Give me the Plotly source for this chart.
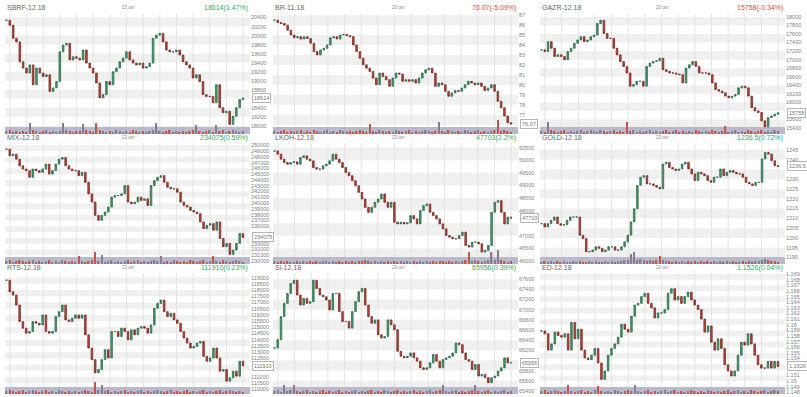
import math
import plotly.graph_objects as go

# ---------------- data ----------------
names = ["SBRF-12.18", "BR-11.18", "GAZR-12.18",
         "MIX-12.18", "LKOH-12.18", "GOLD-12.18",
         "RTS-12.18", "Si-12.18", "ED-12.18"]
date_label = "23 окт"
last_text = ["18614", "76.07", "15758", "234075", "47703", "1236.5", "111910", "65956", "1.1526"]
pct_text = ["1.47%", "-5.09%", "-0.34%", "0.59%", "2.2%", "0.72%", "0.23%", "0.39%", "0.04%"]

SBRF_close = [20340, 20230, 19940, 19860, 19420, 19280, 19170, 19350, 18910, 19280,
              19170, 19090, 19130, 18760, 18840, 18980, 19640, 19790, 19830, 19460,
              19530, 19500, 19460, 19680, 19390, 19280, 19170, 18950, 18620, 18690,
              18980, 18910, 19200, 19280, 19420, 19500, 19640, 19460, 19390, 19350,
              19390, 19280, 19310, 19390, 19940, 20010, 20050, 19860, 19680, 19640,
              19640, 19680, 19570, 19420, 19350, 19280, 19060, 19130, 18980, 18690,
              18650, 18650, 18510, 18910, 18400, 18290, 18320, 18030, 18210, 18400,
              18580, 18614]
SBRF_vol = [3, 4, 2, 3, 2, 3, 2, 11, 4, 3, 2, 3, 4, 2, 3, 2, 3, 11, 4, 3,
            2, 3, 3, 10, 4, 3, 2, 11, 4, 3, 2, 3, 2, 4, 3, 2, 3, 2, 4, 3,
            2, 3, 2, 3, 4, 11, 3, 2, 3, 4, 2, 3, 2, 3, 2, 3, 4, 9, 3, 2,
            3, 4, 2, 9, 3, 4, 2, 3, 4, 3, 2, 3]

BR_close = [86.50, 86.27, 86.17, 86.00, 85.50, 85.01, 84.74, 84.84, 84.61, 84.84,
            84.67, 84.18, 83.35, 83.01, 83.51, 83.68, 84.01, 84.74, 84.84, 84.61,
            85.01, 85.07, 84.94, 84.84, 84.01, 83.35, 82.68, 82.02, 81.68, 81.35,
            80.69, 80.02, 81.19, 80.85, 80.52, 79.86, 80.69, 81.19, 81.09, 80.36,
            80.52, 80.36, 80.52, 80.19, 80.69, 81.19, 81.52, 81.68, 81.19, 79.86,
            80.19, 80.02, 79.36, 78.86, 79.19, 79.43, 79.36, 79.69, 80.02, 80.36,
            80.19, 80.02, 80.19, 79.86, 79.43, 79.69, 80.02, 79.36, 78.36, 77.70,
            76.87, 76.20, 76.07]
BR_vol = [3, 2, 3, 4, 2, 3, 2, 3, 4, 2, 3, 2, 4, 3, 2, 3, 4, 2, 3, 2,
          4, 3, 2, 3, 2, 3, 4, 3, 2, 10, 3, 2, 4, 3, 2, 3, 2, 4, 3, 2,
          3, 4, 2, 3, 2, 3, 4, 3, 2, 3, 12, 3, 2, 4, 3, 2, 3, 2, 4, 3,
          2, 3, 4, 2, 3, 2, 3, 4, 14, 3, 4, 3, 2]

GAZR_close = [17228, 17189, 17421, 17267, 17074, 17112, 17074, 16996, 17189, 17267,
              17382, 17460, 17537, 17421, 17460, 17537, 17575, 17846, 17923, 17614,
              17498, 17498, 17267, 17112, 16958, 16842, 16688, 16379, 16417, 16495,
              16495, 16379, 16842, 16919, 16958, 16973, 17035, 16765, 16726, 16688,
              16688, 16664, 16649, 16456, 16803, 16881, 16958, 16842, 16688, 16688,
              16688, 16649, 16456, 16302, 16263, 16224, 16147, 16108, 16147, 16186,
              16340, 16379, 16340, 16147, 15877, 15800, 15761, 15568, 15429, 15645,
              15684, 15723, 15758]
GAZR_vol = [3, 2, 12, 4, 3, 2, 3, 4, 2, 3, 2, 3, 4, 2, 3, 4, 3, 2, 4, 3,
            2, 3, 4, 2, 3, 2, 12, 3, 4, 2, 3, 2, 3, 4, 2, 3, 2, 3, 4, 2,
            3, 4, 2, 3, 2, 3, 2, 4, 3, 2, 3, 2, 4, 3, 2, 3, 8, 2, 3, 4,
            2, 3, 2, 4, 3, 2, 3, 4, 2, 3, 2, 4, 3]

MIX_close = [249315, 248175, 248460, 247600, 246460, 245890, 245605, 244460, 245890, 245605,
             245320, 245890, 246745, 245030, 245605, 246745, 247600, 247885, 246460, 245890,
             245605, 245605, 244745, 245320, 243605, 241605, 240180, 237895, 237040, 237895,
             238465, 239325, 241035, 241320, 241320, 241605, 243035, 240180, 239895, 240180,
             241035, 240465, 240750, 239610, 243035, 243890, 244460, 244745, 243605, 242750,
             242465, 242465, 241890, 240180, 239610, 239325, 238750, 238465, 238180, 236755,
             235610, 236180, 236465, 235325, 236755, 233900, 232470, 233040, 231155, 231900,
             233040, 234755, 234075]
MIX_vol = [3, 4, 2, 3, 4, 3, 2, 3, 4, 2, 3, 2, 3, 4, 2, 3, 2, 4, 3, 2,
           3, 2, 8, 3, 2, 3, 4, 12, 3, 9, 2, 3, 4, 2, 3, 2, 3, 4, 2, 3,
           4, 2, 3, 2, 3, 4, 3, 8, 2, 3, 2, 4, 3, 2, 3, 2, 4, 3, 2, 3,
           4, 2, 3, 8, 3, 2, 4, 3, 2, 3, 4, 3, 2]

LKOH_close = [50368, 50237, 50039, 49908, 49842, 49908, 49934, 49842, 50105, 50171,
              50039, 49974, 49710, 49645, 49645, 49776, 49842, 49974, 50237, 50039,
              49908, 49710, 49513, 49381, 49184, 48987, 48723, 48460, 48131, 47934,
              48131, 48329, 48460, 48658, 48329, 48131, 48329, 47539, 47473, 47539,
              47473, 47513, 47802, 47671, 47473, 48000, 48197, 48263, 47934, 47802,
              47671, 47473, 47276, 47013, 46947, 46881, 46881, 47013, 47144, 46618,
              46552, 46750, 46750, 46684, 46355, 46420, 46618, 47934, 48329, 48395,
              47934, 47473, 47737, 47703]
LKOH_vol = [3, 2, 3, 2, 3, 2, 2, 3, 2, 3, 2, 3, 2, 3, 2, 3, 3, 2, 3, 2,
            3, 2, 3, 2, 3, 2, 3, 3, 4, 3, 2, 3, 2, 3, 2, 3, 2, 3, 2, 3,
            2, 3, 2, 3, 2, 3, 2, 3, 2, 3, 2, 3, 3, 2, 3, 2, 3, 2, 3, 4,
            12, 3, 4, 3, 2, 3, 4, 12, 4, 14, 4, 3, 2, 3]

GOLD_close = [1207.3, 1205.6, 1207.3, 1209.0, 1210.7, 1207.3, 1206.5, 1206.8, 1209.0, 1210.7,
              1210.7, 1210.7, 1201.4, 1199.7, 1193.0, 1193.0, 1193.8, 1195.5, 1194.7, 1193.0,
              1193.8, 1195.5, 1195.5, 1193.8, 1193.8, 1195.5, 1198.0, 1201.4, 1208.2, 1214.9,
              1226.8, 1231.0, 1231.8, 1227.6, 1227.6, 1226.8, 1225.9, 1225.1, 1237.7, 1238.6,
              1236.0, 1235.2, 1234.4, 1235.2, 1237.7, 1238.6, 1235.2, 1232.7, 1229.3, 1233.5,
              1232.7, 1231.8, 1229.3, 1228.4, 1231.0, 1231.0, 1235.2, 1231.8, 1233.5, 1234.4,
              1233.5, 1232.7, 1232.7, 1231.0, 1228.4, 1227.6, 1226.8, 1228.4, 1228.4, 1240.3,
              1243.6, 1242.8, 1239.4, 1236.9, 1236.5]
GOLD_vol = [2, 3, 2, 3, 2, 3, 2, 3, 2, 2, 3, 2, 3, 2, 2, 3, 2, 3, 2, 2,
            3, 2, 3, 2, 3, 3, 4, 4, 10, 12, 4, 5, 4, 3, 4, 3, 4, 8, 4, 3,
            3, 2, 3, 2, 3, 2, 3, 2, 3, 2, 3, 2, 3, 2, 3, 2, 3, 2, 3, 2,
            3, 2, 2, 3, 2, 3, 2, 3, 3, 4, 5, 4, 3, 3, 2]

RTS_close = [118787, 117856, 117590, 116792, 115462, 114930, 114531, 114664, 115462, 115329,
             115196, 115994, 114664, 114531, 114664, 115861, 116260, 116792, 115595, 115462,
             115728, 115994, 115728, 115994, 114398, 113334, 112403, 111339, 111605, 112403,
             113201, 112537, 114664, 114664, 114265, 114930, 114664, 113999, 114797, 114398,
             114930, 115063, 114930, 114531, 115196, 116526, 116925, 117191, 116260, 115861,
             116127, 115595, 115329, 114664, 114132, 113733, 113334, 113467, 113733, 113866,
             112669, 112270, 112537, 113334, 112537, 111472, 111605, 110674, 110940, 111472,
             111073, 112270, 111910]
RTS_vol = [3, 4, 3, 2, 3, 4, 2, 3, 4, 3, 2, 3, 4, 2, 3, 2, 4, 3, 2, 3,
           2, 3, 2, 3, 4, 3, 2, 12, 4, 9, 3, 4, 2, 3, 2, 3, 4, 2, 3, 2,
           3, 4, 2, 3, 2, 3, 4, 3, 2, 3, 4, 2, 3, 2, 3, 4, 2, 3, 2, 3,
           4, 2, 3, 2, 3, 4, 2, 3, 4, 3, 2, 3, 2]

Si_close = [66246, 66409, 66864, 67125, 67320, 67515, 67580, 67288, 67092, 67222,
            67125, 67157, 67580, 67418, 67288, 67255, 67190, 66995, 67320, 67320,
            66962, 66767, 66767, 66637, 66962, 67157, 67353, 67418, 67092, 66864,
            66734, 66799, 66506, 66441, 66474, 66799, 66702, 66604, 66181, 66083,
            66051, 66083, 66148, 66051, 65986, 65855, 65823, 65855, 65953, 66116,
            65986, 65855, 66018, 66051, 66083, 66148, 66344, 66311, 66148, 66018,
            65986, 65823, 65920, 65693, 65725, 65660, 65562, 65660, 65693, 65790,
            65855, 66051, 65953, 65956]
Si_vol = [3, 4, 2, 9, 3, 4, 9, 3, 2, 3, 4, 2, 3, 2, 3, 4, 2, 3, 2, 3,
          4, 2, 3, 2, 3, 4, 2, 3, 2, 3, 4, 2, 3, 2, 4, 3, 2, 3, 4, 2,
          3, 2, 3, 4, 2, 3, 2, 3, 4, 2, 3, 4, 9, 3, 2, 3, 4, 2, 3, 2,
          3, 4, 9, 3, 2, 3, 4, 2, 3, 2, 3, 4, 2, 3]

ED_close = [1.1589, 1.1584, 1.1555, 1.1566, 1.1587, 1.1581, 1.1578, 1.1584, 1.1555, 1.1604,
            1.1575, 1.1592, 1.1555, 1.1541, 1.1538, 1.1546, 1.1558, 1.1532, 1.1503, 1.1518,
            1.1546, 1.1558, 1.1566, 1.1578, 1.1601, 1.1592, 1.1587, 1.1615, 1.1635, 1.1638,
            1.1650, 1.1656, 1.1638, 1.1630, 1.1612, 1.1621, 1.1621, 1.1627, 1.1656, 1.1664,
            1.1644, 1.1650, 1.1638, 1.1650, 1.1658, 1.1644, 1.1635, 1.1627, 1.1610, 1.1587,
            1.1598, 1.1569, 1.1555, 1.1575, 1.1558, 1.1529, 1.1518, 1.1509, 1.1518, 1.1546,
            1.1569, 1.1564, 1.1584, 1.1566, 1.1546, 1.1529, 1.1523, 1.1523, 1.1535, 1.1523,
            1.1535, 1.1526]
ED_vol = [3, 4, 2, 3, 4, 3, 2, 3, 9, 3, 2, 3, 4, 2, 3, 2, 4, 8, 3, 2,
          3, 2, 4, 3, 2, 3, 4, 3, 9, 3, 2, 3, 4, 2, 3, 2, 3, 4, 2, 3,
          4, 2, 3, 2, 3, 4, 3, 2, 3, 2, 4, 3, 2, 3, 2, 3, 4, 2, 3, 4,
          2, 3, 2, 4, 3, 2, 3, 4, 2, 3, 4, 3]

closes = [SBRF_close, BR_close, GAZR_close, MIX_close, LKOH_close, GOLD_close,
          RTS_close, Si_close, ED_close]
vols = [SBRF_vol, BR_vol, GAZR_vol, MIX_vol, LKOH_vol, GOLD_vol, RTS_vol, Si_vol, ED_vol]

# ---------------- layout / style ----------------
W, H = 807, 397
COL_L = [5, 273, 540]
PW = 245
ROW_T = [12, 142, 273]
ROW_B = [133, 264, 395]
TITLE_Y = [6, 137, 268]
DATE_X = [128, 398, 662]
Y_RANGES = [[17817, 20481], [75.07, 87.13], [15261, 18070],
            [229486, 250400], [45882, 50684], [1186.7, 1248.5],
            [109638, 119373], [65339, 67724], [1.1477, 1.1692]]
DTICKS = [200, 1, 200, 1000, 500, 5, 500, 200, 0.001]
FMTS = ["d", "d", "d", "d", "d", "d", "d", "d", ".3~f"]

FONT = "Liberation Sans, Arial, sans-serif"
UP_LINE, UP_FILL = "#2f6e4e", "#4a9a6c"
DN_LINE, DN_FILL = "#7c2f27", "#b4493c"
GREEN, RED = "#2fa865", "#e2483f"
STRIPE = "#f0f0f0"
VGRID = "#e3e3e3"
BAND = "#b9b9cc"
BAND_PX = 7
VOL_PX = 16

fig = go.Figure()
layout = dict(width=W, height=H, margin=dict(l=0, r=0, t=0, b=0),
              paper_bgcolor="white", plot_bgcolor="rgba(0,0,0,0)", showlegend=False,
              font=dict(family=FONT))
shapes, annotations = [], []

for i in range(9):
    r, c = divmod(i, 3)
    ax = i + 1
    vax = 10 + i
    xname = "x" if ax == 1 else f"x{ax}"
    yname = "y" if ax == 1 else f"y{ax}"
    vname = f"y{vax}"
    close = closes[i]
    vol = vols[i]
    assert len(close) == len(vol), (names[i], len(close), len(vol))
    n = len(close)
    xs = list(range(n))
    opens = [close[0]] + close[:-1]
    highs = [max(o, cl) for o, cl in zip(opens, close)]
    lows = [min(o, cl) for o, cl in zip(opens, close)]

    x0 = COL_L[c] / W
    x1 = (COL_L[c] + PW) / W
    y0 = 1 - ROW_B[r] / H
    y1 = 1 - ROW_T[r] / H
    s = (PW - 1.5 - 7) / (n - 1)
    xr = [-1.5 / s, (n - 1) + 7 / s]
    lo, hi = Y_RANGES[i]
    ph = ROW_B[r] - ROW_T[r]
    per_px = (hi - lo) / ph
    band_top = lo + BAND_PX * per_px
    d = DTICKS[i]

    # volume band
    shapes.append(dict(type="rect", xref=f"{xname} domain", yref=yname,
                       x0=0, x1=1, y0=lo, y1=band_top,
                       fillcolor=BAND, line=dict(width=0), layer="below"))

    fig.add_trace(go.Candlestick(
        x=xs, open=opens, high=highs, low=lows, close=close,
        xaxis=xname, yaxis=yname, whiskerwidth=0,
        increasing=dict(line=dict(color=UP_LINE, width=0.8), fillcolor=UP_FILL),
        decreasing=dict(line=dict(color=DN_LINE, width=0.8), fillcolor=DN_FILL),
        hoverinfo="skip", showlegend=False))
    vcols = ["#c0574c" if cl < o else "#8a7c90" for o, cl in zip(opens, close)]
    fig.add_trace(go.Bar(x=xs, y=vol, xaxis=xname, yaxis=vname, width=0.45,
                         marker=dict(color=vcols, line=dict(width=0)),
                         hoverinfo="skip", showlegend=False))

    # tick values: hide the ones covered by the last-price box
    first = math.ceil(lo / d - 1e-9)
    last = math.floor(hi / d + 1e-9)
    tickvals = [round(k * d, 6) for k in range(first, last + 1)
                if abs(k * d - close[-1]) / per_px > 5.5]

    layout["xaxis" if ax == 1 else f"xaxis{ax}"] = dict(
        domain=[x0, x1], range=xr, anchor=yname, visible=False,
        rangeslider=dict(visible=False), fixedrange=True)
    layout["yaxis" if ax == 1 else f"yaxis{ax}"] = dict(
        domain=[y0, y1], range=[lo, hi], anchor=xname, side="right",
        tickmode="array", tickvals=tickvals, tickformat=FMTS[i], showgrid=False,
        zeroline=False, ticks="", showline=False, fixedrange=True,
        tickfont=dict(size=5.5, color="#808080", family=FONT))
    layout[f"yaxis{vax}"] = dict(domain=[y0, y0 + VOL_PX / H], range=[0, VOL_PX],
                                 anchor=xname, visible=False, fixedrange=True)

    # alternating horizontal stripes
    t_top = math.floor(hi / d + 1e-9) * d
    k = 0
    while True:
        b = t_top - 2 * k * d
        a = t_top - (2 * k + 1) * d
        if b <= band_top:
            break
        shapes.append(dict(type="rect", xref=f"{xname} domain", yref=yname,
                           x0=0, x1=1, y0=max(a, band_top), y1=b,
                           fillcolor=STRIPE, line=dict(width=0), layer="below"))
        k += 1
    # vertical grid lines
    for k in range(15):
        xd = (5 + k * 16.65) / PW
        shapes.append(dict(type="line", xref=f"{xname} domain", yref=yname,
                           x0=xd, x1=xd, y0=band_top, y1=hi,
                           line=dict(color=VGRID, width=1), layer="below"))

    # texts
    ty = 1 - TITLE_Y[r] / H
    annotations.append(dict(text=names[i], xref="paper", yref="paper",
                            x=COL_L[c] / W, y=ty, xanchor="left", yanchor="middle",
                            showarrow=False, font=dict(size=7, color="#666666", family=FONT)))
    annotations.append(dict(text=date_label, xref="paper", yref="paper",
                            x=DATE_X[c] / W, y=ty, xanchor="center", yanchor="middle",
                            showarrow=False, font=dict(size=4.5, color="#888888", family=FONT)))
    up = not pct_text[i].startswith("-")
    annotations.append(dict(text=f"{last_text[i]}({pct_text[i]})", xref="paper", yref="paper",
                            x=(COL_L[c] + PW) / W, y=ty, xanchor="right", yanchor="middle",
                            showarrow=False,
                            font=dict(size=7, color=GREEN if up else RED, family=FONT)))
    annotations.append(dict(text=last_text[i], xref=f"{xname} domain", yref=yname,
                            x=1, y=close[-1], xanchor="left", yanchor="middle", xshift=2,
                            showarrow=False, bgcolor="white", bordercolor="#b5b5b5",
                            borderwidth=1, borderpad=1,
                            font=dict(size=5.5, color="#777777", family=FONT)))

layout["shapes"] = shapes
layout["annotations"] = annotations
fig.update_layout(**layout)
fig.write_html("out.html", config={"displayModeBar": False},
               post_script="document.body.style.margin='0px';document.body.style.padding='0px';")
